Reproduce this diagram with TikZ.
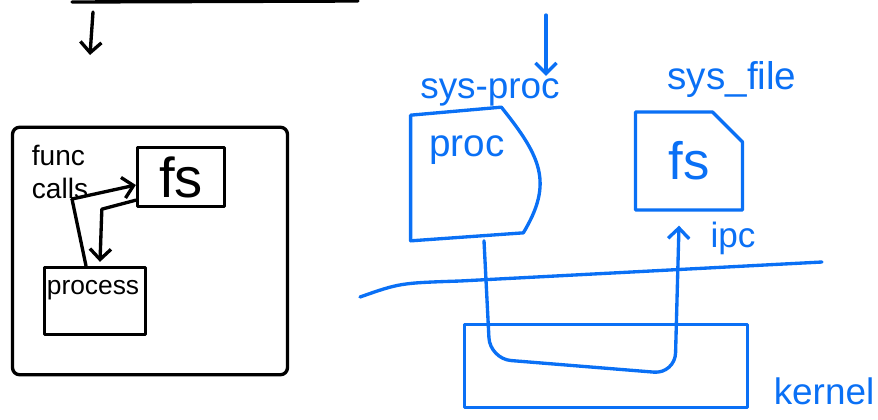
\documentclass[tikz,border=0pt]{standalone}
\usepackage{fontspec}
\setmainfont{Liberation Sans}
\usetikzlibrary{arrows.meta,positioning,shapes.misc,calc}
\definecolor{penblue}{RGB}{10,112,245}

\begin{document}
\begin{tikzpicture}[
  x=0.02cm, y=-0.02cm,
  ink/.style={line width=1.9pt, line cap=round, line join=round},
  bbox/.style={ink, draw=black, inner sep=0pt},
  ubox/.style={ink, draw=penblue, inner sep=0pt},
  txt/.style={inner sep=0pt, align=left},
  arr/.style={ink, -{Straight Barb[length=6pt,width=12pt]}}
]
\useasboundingbox (0,0) rectangle (878,419);

%% Left: one program, plain function calls
\coordinate (topL) at (72,2);
\coordinate (topR) at (358,1);
\draw[ink] (topL) -- (topR);
\coordinate (inA) at (93,12);
\coordinate (inB) at (90,55);
\draw[arr] (inA) -- (inB);

\node[bbox, rounded corners=4pt, minimum width=5.5cm, minimum height=4.95cm] (mono) at (150,251) {};
\node[bbox, minimum width=1.74cm, minimum height=1.18cm,
      font=\fontsize{32}{32}\selectfont] (fsA) at (181,177) {fs};
\node[txt, font=\fontsize{16}{19}\selectfont] (calls) at (60,172) {func\\calls};
\node[bbox, minimum width=2.02cm, minimum height=1.34cm] (procA) at (95,301) {};
\node[txt, font=\fontsize{15}{15}\selectfont] (procAtxt) at (93,290) {process};

%% Arrows between fs and process
\coordinate (fork) at (72,199);
\draw[arr] (fork) -- ($(fsA.west)+(0,8)$);
\draw[ink] (fork) -- ($(procA.north)+(-9,0)$);
\draw[arr] ($(fsA.south west)+(0,-8)$) -- ++(-34,9) -- ($(procA.north)+(5,-4)$);

%% Right: separate user processes, blue ink
\coordinate (sysin) at (546,15);
\node[txt, text=penblue, font=\fontsize{21}{21}\selectfont] (sysproc) at (490,92) {sys-proc};
\draw[arr, penblue] (sysin) -- ($(sysin |- sysproc.north)+(0,-2)$);

\node[inner sep=0pt, minimum width=2.0cm, minimum height=2.5cm] (procB) at (461,178) {};
\draw[ink, penblue] (procB.south west) -- (procB.north west)
  -- ($(procB.north east)+(-10,-8)$) .. controls +(40,50) and +(30,-50) ..
  ($(procB.south east)+(12,-8)$) -- cycle;
\node[txt, text=penblue, font=\fontsize{22}{22}\selectfont] (procBtxt) at (467,150) {proc};

\node[ubox, chamfered rectangle, chamfered rectangle corners=north east,
      chamfered rectangle xsep=0.3cm, chamfered rectangle ysep=0.3cm,
      minimum width=2.14cm, minimum height=1.96cm, text=penblue,
      font=\fontsize{30}{30}\selectfont] (fsB) at (689,161) {fs};
\node[txt, text=penblue, font=\fontsize{22}{22}\selectfont] (sysfile) at (732,80) {sys\_file};
\node[txt, text=penblue, font=\fontsize{20}{20}\selectfont] (ipc) at (733,238) {ipc};

%% User / kernel boundary
\coordinate (bndL) at (360,297);
\coordinate (bndR) at (822,262);
\draw[ink, penblue] (bndL) .. controls (400,283) .. (460,281) -- (bndR);

\node[ubox, minimum width=5.66cm, minimum height=1.66cm] (kern) at (606,366) {};
\node[txt, text=penblue, font=\fontsize{21}{21}\selectfont] (kernlbl) at (824,391) {kernel};

%% ipc path through the kernel
\draw[arr, penblue, rounded corners=12pt] ($(procB.south)+(23,0)$) -- ++(6,118)
  -- ++(185,15) -- ($(fsB.south)+(-10,14)$);
\end{tikzpicture}
\end{document}
